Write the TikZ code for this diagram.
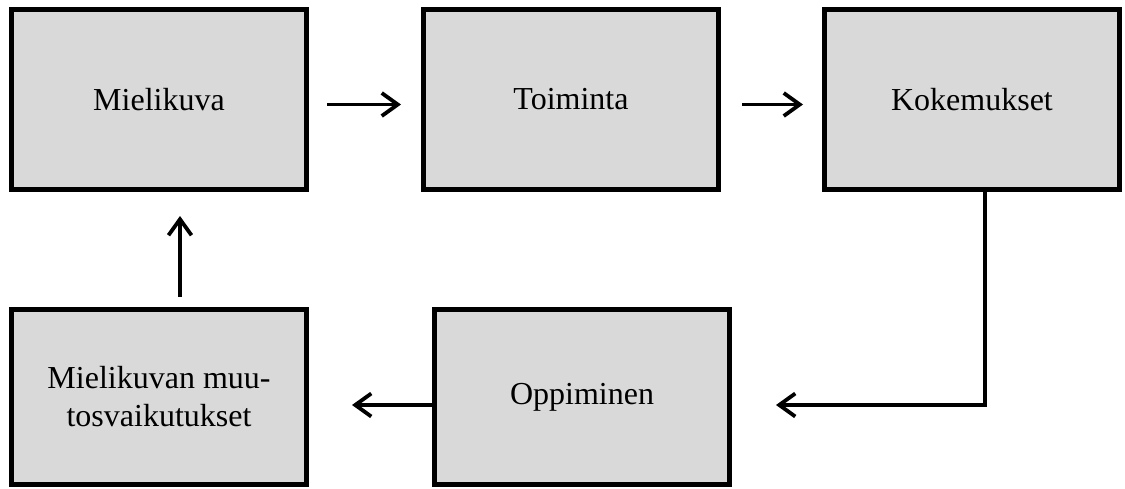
\documentclass[tikz,border=0pt]{standalone}
\usepackage{fontspec}
\setmainfont{Liberation Serif}
\usetikzlibrary{positioning,arrows.meta}

\begin{document}
\begin{tikzpicture}[x=0.5pt, y=-0.5pt, line width=1.9pt, main/.style = {draw, line width=2.5pt, fill=black!15, minimum width=147.5pt, minimum height=90pt, inner sep=0pt, align=center, font=\fontsize{16}{19}\selectfont}, arr/.style = {-{Straight Barb[length=8pt,width=11.5pt]}}]
\useasboundingbox (0,0) rectangle (1125,488);
\node[main] (1) at (159,99.5) {Mielikuva};
\node[main] (2) [right=56pt of 1] {Toiminta};
\node[main] (3) [right=50.5pt of 2] {Kokemukset};
\node[main, minimum height=87.5pt] (4) [below=57.5pt of 1] {Mielikuvan muu-\\tosvaikutukset};
\node[main, minimum height=87.5pt] (5) [right=61.5pt of 4] {Oppiminen};
\draw[arr, shorten <=9pt, shorten >=10pt] ([yshift=-2.5pt]1.east) -- ([yshift=-2.5pt]2.west);
\draw[arr, shorten <=10.5pt, shorten >=9.5pt] ([yshift=-2.5pt]2.east) -- ([yshift=-2.5pt]3.west);
\draw[arr, shorten >=22pt] ([xshift=6.5pt]3.south) |- ([yshift=-4pt]5.east);
\draw[arr, shorten >=21.5pt] ([yshift=-4pt]5.west) -- ([yshift=-4pt]4.east);
\draw[arr, shorten <=5pt, shorten >=12pt] ([xshift=10.5pt]4.north) -- ([xshift=10.5pt]1.south);
\end{tikzpicture}
\end{document}
